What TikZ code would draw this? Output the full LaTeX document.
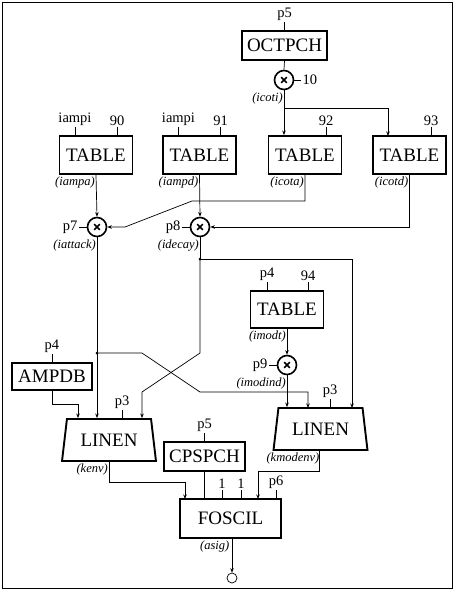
\documentclass[tikz,border=0pt]{standalone}
\usepackage{fontspec}
\setmainfont{Liberation Serif}
\usetikzlibrary{shapes.geometric,arrows.meta,calc}
\newcommand\pTick[4]{\draw[conn] ([xshift=#2pt]#1.north) -- ++(0,-8) node[lbl,anchor=south] (#3) {#4};}
\begin{document}
\begin{tikzpicture}[x=1pt,y=-1pt,
 box/.style={draw,line width=1.9pt,inner sep=0pt,font=\fontsize{19}{19}\selectfont},
 trap/.style={draw,line width=1.9pt,trapezium,trapezium stretches=true,trapezium left angle=75,trapezium right angle=75,minimum width=94pt,minimum height=42pt,inner sep=0pt,font=\fontsize{19}{19}\selectfont},
 mult/.style={draw,circle,line width=1.6pt,minimum size=19pt,inner sep=0pt,
   path picture={\draw[line width=1.7pt] ([shift={(-2.8pt,-2.8pt)}]path picture bounding box.center) -- ([shift={(2.8pt,2.8pt)}]path picture bounding box.center);
                 \draw[line width=1.7pt] ([shift={(-2.8pt,2.8pt)}]path picture bounding box.center) -- ([shift={(2.8pt,-2.8pt)}]path picture bounding box.center);}},
 lbl/.style={font=\fontsize{14.5}{14.5}\selectfont,inner sep=1pt},
 vlbl/.style={font=\itshape\fontsize{12.5}{12.5}\selectfont,inner sep=1pt},
 conn/.style={line width=0.7pt},
 arr/.style={conn,-{Stealth[length=4.5pt,width=3.5pt]}},
 dot/.style={circle,fill,inner sep=0pt,minimum size=3pt},
]
\useasboundingbox (0,0) rectangle (455,590);
\draw[line width=0.9pt] (2,2) rectangle (452,588);

% boxes
\node[box,minimum width=85pt,minimum height=29pt] (oct) at (284.5,45.5) {OCTPCH};
\node[mult] (m1) at (284,80) {};
\node[box,minimum width=73pt,minimum height=38pt] (T1) at (96,155) {TABLE};
\node[box,minimum width=73pt,minimum height=38pt] (T2) at (199.5,155) {TABLE};
\node[box,minimum width=73pt,minimum height=38pt] (T3) at (305,155) {TABLE};
\node[box,minimum width=73pt,minimum height=38pt] (T4) at (409.5,155) {TABLE};
\node[mult] (m7) at (97,227) {};
\node[mult] (m8) at (200,227) {};
\node[box,minimum width=73pt,minimum height=37pt] (T5) at (287,309.5) {TABLE};
\node[mult] (m9) at (287,365) {};
\node[box,minimum width=80pt,minimum height=27pt] (amp) at (52,376.5) {AMPDB};
\node[trap] (L1) at (109,440) {LINEN};
\node[trap] (L2) at (320.5,429) {LINEN};
\node[box,minimum width=81pt,minimum height=29pt] (cps) at (204.5,456.5) {CPSPCH};
\node[box,minimum width=101pt,minimum height=39pt] (fos) at (230.5,518.5) {FOSCIL};
\node[draw,circle,conn,minimum size=10pt,inner sep=0pt] (out) at (232,578) {};

% parameter ticks
\pTick{oct}{0}{l5}{p5}
\pTick{T1}{-21}{la1}{iampi}
\pTick{T1}{21}{la2}{90}
\pTick{T2}{-21}{lb1}{iampi}
\pTick{T2}{21}{lb2}{91}
\pTick{T3}{21}{lc2}{92}
\pTick{T4}{21.5}{ld2}{93}
\pTick{T5}{-20}{le1}{p4}
\pTick{T5}{21}{le2}{94}
\pTick{amp}{0}{lf}{p4}
\pTick{L1}{13}{lg}{p3}
\pTick{L2}{9.5}{lh}{p3}
\pTick{cps}{0}{li}{p5}
\pTick{fos}{-8.5}{lj1}{1}
\pTick{fos}{10.5}{lj2}{1}
\pTick{fos}{45.5}{lj3}{p6}
\draw[conn] (m1.east) -- ++(7,0) node[lbl,anchor=west] (n10) {10};
\draw[conn] (m7.west) -- ++(-8,0) node[lbl,anchor=east] (n7) {p7};
\draw[conn] (m8.west) -- ++(-8,0) node[lbl,anchor=east] (n8) {p8};
\draw[conn] (m9.west) -- ++(-8,0) node[lbl,anchor=east] (n9) {p9};

% variable labels
\node[vlbl,anchor=north east] (v0) at ([yshift=-1pt]m1.south) {(icoti)};
\node[vlbl,anchor=north east] (v1) at ([yshift=-1pt]T1.south) {(iampa)};
\node[vlbl,anchor=north east] (v2) at ([yshift=-1pt]T2.south) {(iampd)};
\node[vlbl,anchor=north east] (v3) at ([yshift=-1pt]T3.south) {(icota)};
\node[vlbl,anchor=north east] (v4) at ([yshift=-1pt]T4.south) {(icotd)};
\node[vlbl,anchor=north east] (v7) at ([yshift=-1pt]m7.south) {(iattack)};
\node[vlbl,anchor=north east] (v8) at ([yshift=-1pt]m8.south) {(idecay)};
\node[vlbl,anchor=north east] (v5) at ([yshift=-1pt]T5.south) {(imodt)};
\node[vlbl,anchor=north east] (v9) at ([yshift=-1pt]m9.south) {(imodind)};
\node[vlbl,anchor=north east] (vk1) at ([yshift=-1pt]L1.south) {(kenv)};
\node[vlbl,anchor=north east] (vk2) at ([yshift=-1pt]L2.south) {(kmodenv)};
\node[vlbl,anchor=north east] (va) at ([yshift=-1pt]fos.south) {(asig)};

% coordinates
\coordinate (b1) at (284,108);
\coordinate (t4in) at (388,136);
\coordinate (c3a) at (192,201);
\coordinate (c3b) at (125,227);
\node[dot] (d7) at (97,353) {};
\node[dot] (d8) at (200,259) {};
\coordinate (x1) at (142,353);
\coordinate (x2) at (200,392);
\coordinate (y1) at (200,353);
\coordinate (y2) at (142,392);
\coordinate (l2b) at (308,408);
\coordinate (l2c) at (352,408);
\coordinate (a2) at (78,404);
\coordinate (k1) at (109,482);
\coordinate (k2) at (319,471);
\coordinate (f1) at (185,499);
\coordinate (f2) at (258,499);

% connectors
\draw[conn] (oct.south) -- (m1.north);
\draw[arr] (m1.south) -- (T3.north -| m1);
\draw[arr] (b1) -| (t4in);
\draw[arr] (T1.south) -- (m7.north);
\draw[arr] (T2.south) -- (m8.north);
\draw[arr] (T3.south) |- (c3a) -- (c3b) -- (m7.east);
\draw[arr] (T4.south) |- (m8.east);
\draw[arr] (m7.south) -- (L1.north -| m7);
\draw[arr] (d7.center) -- (x1) -- (x2) -| (l2b);
\draw[conn] (m8.south) -- (d8.center);
\draw[arr] (d8.center) -| (l2c);
\draw[arr] (d8.center) -- (y1) -- (y2) -- (y2 |- L1.north);
\draw[arr] (amp.south) |- (a2) -- (a2 |- L1.north);
\draw[arr] (T5.south) -- (m9.north);
\draw[arr] (m9.south) -- (m9 |- L2.north);
\draw[arr] (L1.south) |- (k1) -| (f1);
\draw[arr] (L2.south -| k2) |- (k2) -| (f2);
\draw[conn] (cps.south) -- (cps.south |- fos.north);
\draw[arr] (fos.south -| out) -- (out.north);
\end{tikzpicture}
\end{document}
